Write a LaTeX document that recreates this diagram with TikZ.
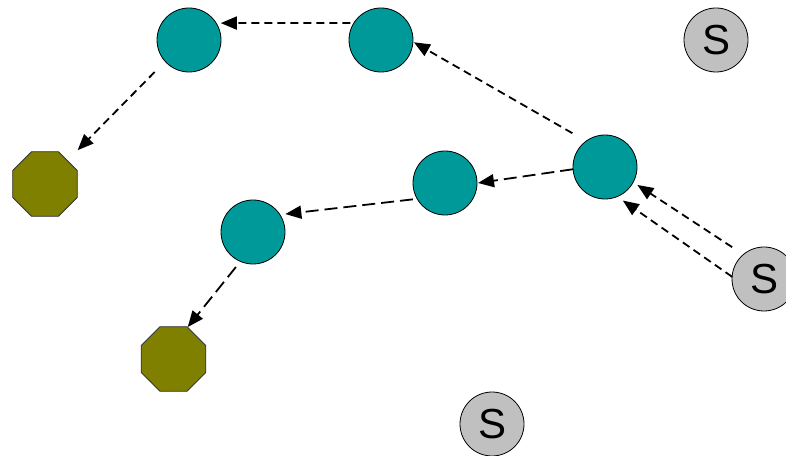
\documentclass[tikz,border=0pt]{standalone}
\usepackage{fontspec}
\setmainfont{Liberation Sans}
\usetikzlibrary{shapes.geometric,arrows.meta,calc}

\definecolor{tealnode}{RGB}{0,153,153}
\definecolor{olivenode}{RGB}{128,128,0}
\definecolor{graynode}{RGB}{192,192,192}

\tikzset{
  peer/.style={circle,draw=black,line width=0.8pt,fill=tealnode,minimum size=64pt,inner sep=0pt},
  sink/.style={regular polygon,regular polygon sides=8,draw=black!80,line width=0.8pt,fill=olivenode,minimum size=70pt,inner sep=0pt},
  source/.style={circle,draw=black,line width=0.8pt,fill=graynode,minimum size=64pt,inner sep=0pt,
    font=\fontsize{42}{42}\selectfont},
  link/.style={line width=1.8pt,dash pattern=on 8pt off 5pt,-{Triangle[length=16pt,width=13pt]}},
  longlink/.style={link,dash pattern=on 13pt off 6pt}
}

\begin{document}
\begin{tikzpicture}[x=1pt,y=1pt]
  \useasboundingbox (0,0) rectangle (786,455);

  % peers
  \node[peer] (A) at (189,415) {};
  \node[peer] (B) at (381,415) {};
  \node[peer] (C) at (605,288) {};
  \node[peer] (D) at (445,272) {};
  \node[peer] (E) at (253,223) {};

  % sinks
  \node[sink] (F) at (45,271) {};
  \node[sink] (G) at (173.5,96) {};

  % sources
  \node[source] (S1) at (716,415) {S};
  \node[source] (S2) at (764,176) {S};
  \node[source] (S3) at (492,31) {S};

  % forwarding paths
  \draw[link] ($(B)+(151:35)$) -- ($(A)+(28:36)$);
  \draw[link] ($(C)+(134:47)$) -- ($(B)+(-4:33)$);
  \draw[link] ($(A)+(223:47)$) -- ($(F)+(46:47)$);
  \draw[longlink] ($(C)+(184:32)$) -- ($(D)+(0:33)$);
  \draw[longlink] ($(D)+(207:36)$) -- ($(E)+(29:37)$);
  \draw[longlink] ($(E)+(244:39)$) -- ($(G)+(66:35)$);
  \draw[link] ($(S2)+(135:45)$) -- ($(C)+(-29:37)$);
  \draw[link] ($(S2)+(176:32)$) -- ($(C)+(-62:38)$);
\end{tikzpicture}
\end{document}
